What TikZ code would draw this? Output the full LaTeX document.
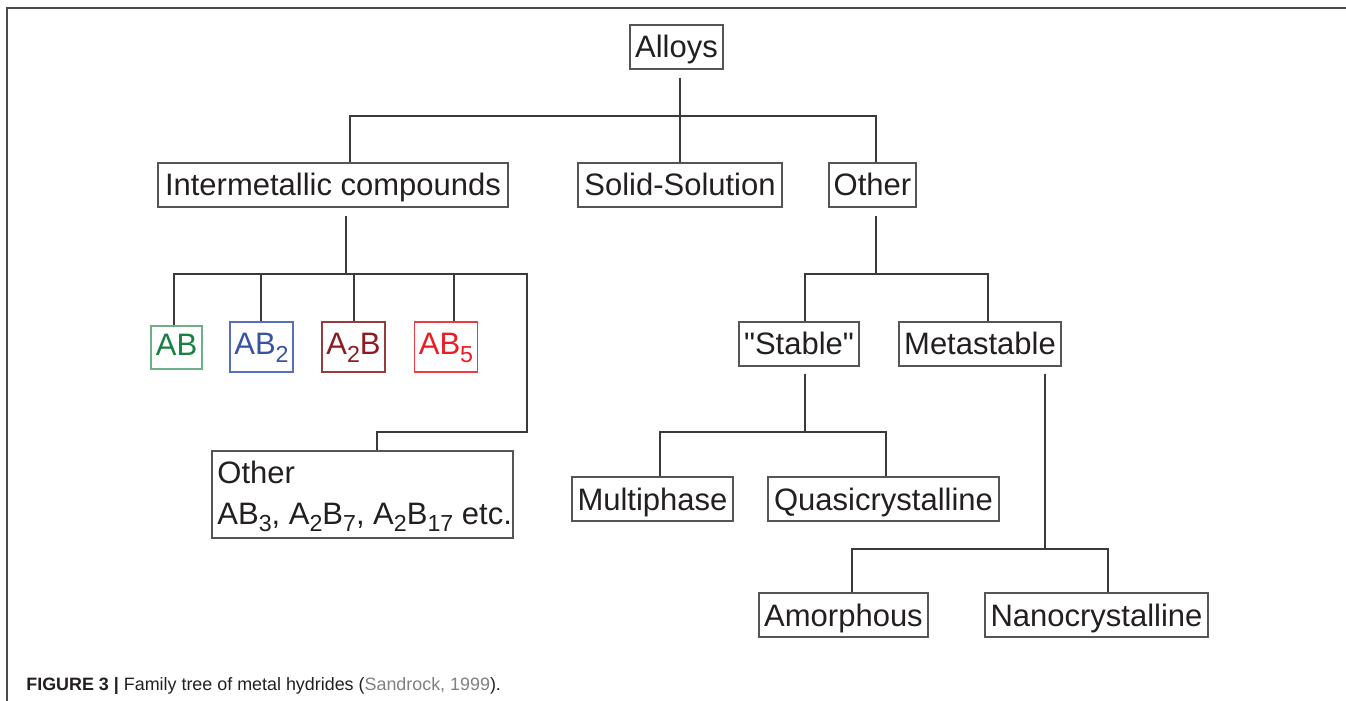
\documentclass[tikz,border=0pt]{standalone}
\usepackage{fontspec}
\setmainfont{Liberation Sans}[Ligatures=TeXOff]
\definecolor{txt}{HTML}{231F20}
\definecolor{boxc}{HTML}{555555}
\definecolor{linec}{HTML}{3A3A3A}
\definecolor{framec}{HTML}{4A4A4A}
\definecolor{capgray}{HTML}{808080}
\definecolor{abgt}{HTML}{17813F}
\definecolor{abgb}{HTML}{6DB088}
\definecolor{abbt}{HTML}{3953A4}
\definecolor{abbb}{HTML}{5570C0}
\definecolor{artt}{HTML}{8E1B1F}
\definecolor{artb}{HTML}{9A3B3E}
\definecolor{rdt}{HTML}{EC1C24}
\definecolor{rdb}{HTML}{EE3A42}
\newcommand{\sbs}[1]{\raisebox{-3.5pt}{\fontsize{11.6pt}{12pt}\selectfont #1}}
\begin{document}
\begin{tikzpicture}[x=0.5pt,y=-0.5pt,
  box/.style={draw=boxc, line width=0.6pt, rectangle, inner xsep=2pt, inner ysep=0pt,
    minimum height=22pt, text height=11pt, text depth=0pt,
    font=\fontsize{15.5pt}{20.5pt}\selectfont, text=txt},
  cbox/.style={box, minimum height=25pt, text depth=3pt},
  txtline/.style={anchor=base west, inner sep=0pt, font=\fontsize{15.5pt}{20.5pt}\selectfont, text=txt},
  conn/.style={draw=linec, line width=0.55pt},
  gap/.style={shorten <=4pt}]
\useasboundingbox (0,0) rectangle (1346,701);
% frame
\draw[framec, line width=0.75pt] (7,701) -- (7,8) -- (1346,8);
% nodes
\node[box, minimum width=46.5pt] (alloys) at (676.5,47) {Alloys};
\node[box, minimum width=175pt] (inter) at (333,185) {Intermetallic compounds};
\node[box, minimum width=102pt] (solid) at (680,185) {Solid-Solution};
\node[box, minimum width=43.5pt] (other1) at (872.5,185) {Other};
\node[cbox, draw=abgb, text=abgt, minimum width=25.5pt, minimum height=21.5pt] (ab) at (176.5,347.5) {AB};
\node[cbox, draw=abbb, text=abbt, minimum width=31.5pt] (ab2) at (261.5,347) {AB\sbs{2}};
\node[cbox, draw=artb, text=artt, minimum width=31.5pt] (a2b) at (353.5,347) {A\sbs{2}B};
\node[cbox, draw=rdb, text=rdt, minimum width=31pt] (ab5) at (446,347) {AB\sbs{5}};
\node[box, minimum width=150.5pt, minimum height=43.5pt] (otherab) at (362.5,494.5) {};
\node[txtline] (otherab1) at (217,483) {Other};
\node[txtline] (otherab2) at (217,524) {AB\sbs{3}, A\sbs{2}B\sbs{7}, A\sbs{2}B\sbs{17} etc.};
\node[box, minimum width=60pt] (stable) at (799,344) {"Stable"};
\node[box, minimum width=81pt] (meta) at (980,344) {Metastable};
\node[box, minimum width=80.5pt] (multi) at (652.5,499) {Multiphase};
\node[box, minimum width=115.5pt] (quasi) at (883.5,499) {Quasicrystalline};
\node[box, minimum width=84.5pt] (amor) at (843.5,615) {Amorphous};
\node[box, minimum width=111.5pt] (nano) at (1096.5,615) {Nanocrystalline};
% caption
\node[anchor=base west, inner sep=0pt, font=\fontsize{8.95pt}{10pt}\selectfont, text=txt] (cap) at (26,690)
  {\textbf{FIGURE 3 |} Family tree of metal hydrides (\textcolor{capgray}{Sandrock, 1999}).};
% coordinates
\coordinate (b1l) at (350,116);
\coordinate (b1r) at (876,116);
\coordinate (c2) at (346,274);
\coordinate (b2l) at (174,274);
\coordinate (b2r) at (527,274);
\coordinate (k2) at (377,432);
\coordinate (d2) at (261,274);
\coordinate (d3) at (354,274);
\coordinate (d4) at (454,274);
\coordinate (c3) at (876,274);
\coordinate (b3l) at (805,274);
\coordinate (b3r) at (988,274);
\coordinate (c4) at (805,432);
\coordinate (b4l) at (660,432);
\coordinate (b4r) at (886,432);
\coordinate (c5) at (1045,549);
\coordinate (b5l) at (852,549);
\coordinate (b5r) at (1108,549);
% connectors
\draw[conn, gap] (alloys.south -| solid.north) -- (solid.north);
\draw[conn] (inter.north -| b1l) |- (b1r) -- (other1.north -| b1r);
\draw[conn, gap] (inter.south -| c2) -- (c2);
\draw[conn] (ab.north -| b2l) |- (b2r) |- (k2) -- (otherab.north -| k2);
\draw[conn] (d2) -- (ab2.north -| d2);
\draw[conn] (d3) -- (a2b.north -| d3);
\draw[conn] (d4) -- (ab5.north -| d4);
\draw[conn, gap] (other1.south -| c3) -- (c3);
\draw[conn] (stable.north -| b3l) |- (b3r) -- (meta.north -| b3r);
\draw[conn, shorten <=3.5pt] (stable.south -| c4) -- (c4);
\draw[conn] (multi.north -| b4l) |- (b4r) -- (quasi.north -| b4r);
\draw[conn, shorten <=3.5pt] (meta.south -| c5) -- (c5);
\draw[conn] (amor.north -| b5l) |- (b5r) -- (nano.north -| b5r);
\end{tikzpicture}
\end{document}
